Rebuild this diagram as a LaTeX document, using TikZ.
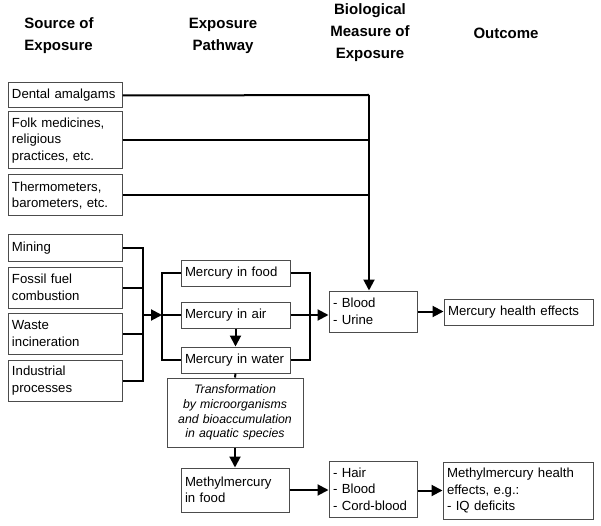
\documentclass[tikz,border=0pt]{standalone}
\usepackage{fontspec}
\setmainfont{Liberation Sans}
\usetikzlibrary{arrows.meta}
\tikzset{
  box/.style={draw=black!70, line width=1pt, inner xsep=4pt, inner ysep=0pt,
    align=left, font=\fontsize{13.2}{16.5}\selectfont},
  hdr/.style={align=center, font=\fontsize{15}{22}\selectfont\bfseries},
  conn/.style={line width=2pt, black},
  arr/.style={conn, -{Triangle[length=11pt,width=11pt]}}
}
\newcommand{\bx}[6]{\node[box, minimum width=#4, minimum height=#5, text width=#4-8pt] (#1) at (#2,#3) {#6};}
\begin{document}
\begin{tikzpicture}[x=1pt,y=-1pt]
\useasboundingbox (0,0) rectangle (601,526);
% headers
\node[hdr, align=left] (h1) at (59,36) {Source of\\Exposure};
\node[hdr] (h2) at (223,36) {Exposure\\Pathway};
\node[hdr] (h3) at (370,33) {Biological\\Measure of\\Exposure};
\node[hdr] (h4) at (506,33) {Outcome};
% source boxes
\bx{dental}{65}{95.5}{114pt}{25pt}{Dental amalgams}
\bx{folk}{65}{140.5}{114pt}{57pt}{Folk medicines,\\religious\\practices, etc.}
\bx{thermo}{65}{195.5}{114pt}{41pt}{Thermometers,\\barometers, etc.}
\bx{mining}{65}{248}{114pt}{26pt}{Mining}
\bx{fossil}{65}{287.5}{114pt}{41pt}{Fossil fuel\\combustion}
\bx{waste}{65}{333.5}{114pt}{41pt}{Waste\\incineration}
\bx{indus}{65}{380.5}{114pt}{41pt}{Industrial\\processes}
% pathway boxes
\bx{food}{235.5}{273}{109pt}{26pt}{Mercury in food}
\bx{air}{235.5}{315}{109pt}{26pt}{Mercury in air}
\bx{water}{235.5}{360}{109pt}{26pt}{Mercury in water}
\node[box, align=center, minimum width=134pt, minimum height=69pt, text width=128pt,
  font=\fontsize{12.3}{14.7}\selectfont\itshape] (trans) at (235,412.5)
  {Transformation\\by microorganisms\\and bioaccumulation\\in aquatic species};
\bx{methyl}{235}{490}{108pt}{44pt}{Methylmercury\\in food}
% biological measures
\bx{blood}{373}{311.5}{88pt}{41pt}{- Blood\\- Urine}
\bx{hair}{373}{489}{88pt}{56pt}{- Hair\\- Blood\\- Cord-blood}
% outcomes
\bx{mhe}{518.5}{312}{149pt}{26pt}{Mercury health effects}
\bx{mmhe}{518}{490.5}{150pt}{57pt}{Methylmercury health\\effects, e.g.:\\- IQ deficits}
% junctions
\coordinate (j1) at (369,95);
\coordinate (jx) at (143,315);
\coordinate (jp) at (162,315);
\coordinate (jq) at (310,315);
% top sources to blood
\draw[conn] (dental.east) -- (j1);
\draw[conn] (folk.east) -- (folk.east -| j1);
\draw[conn] (thermo.east) -- (thermo.east -| j1);
\draw[arr] (j1) -- (j1 |- blood.north);
% environmental sources
\draw[conn] (mining.east) -| (jx);
\draw[conn] (fossil.east) -| (jx);
\draw[conn] (waste.east) -| (jx);
\draw[conn] (indus.east) -| (jx);
\draw[arr] (jx) -- (jp);
\draw[conn] (food.west) -| (jp);
\draw[conn] (water.west) -| (jp);
\draw[conn] (jp) -- (air.west);
\draw[conn] (food.east) -| (jq);
\draw[conn] (water.east) -| (jq);
\draw[conn] (air.east) -- (jq);
\draw[arr] (jq) -- (jq -| blood.west);
\draw[arr] (air.south) -- (water.north);
\draw[conn] (water.south) -- (trans.north);
\draw[arr] (trans.south) -- (methyl.north);
\draw[arr] (blood.east) -- (blood.east -| mhe.west);
\draw[arr] (methyl.east) -- (methyl.east -| hair.west);
\draw[arr] (hair.east |- mmhe.west) -- (mmhe.west);
\end{tikzpicture}
\end{document}
